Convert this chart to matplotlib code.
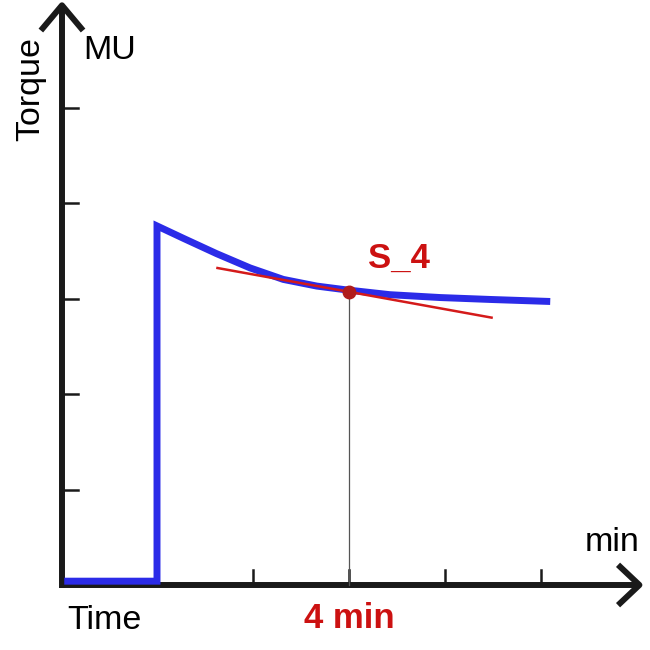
import numpy as np
import matplotlib.pyplot as plt

plt.rcParams['font.family'] = ['Liberation Sans', 'DejaVu Sans']

# torque curve (time in min, torque in tick units)
t_base = [-1.86, 0.0]
y_base = [0.04, 0.04]
t_curve = [0.0, 0.55, 1.24, 1.94, 2.63, 3.33, 3.95, 4.85, 5.9, 6.94, 8.12]
y_curve = [3.76, 3.63, 3.47, 3.32, 3.20, 3.13, 3.09, 3.04, 3.01, 2.99, 2.97]

# tangent at 4 min
t_point = 4.0
y_point = 3.07
t_tan = [1.26, 6.97]
slope = -0.091

x_ticks = [0, 2, 4, 6, 8]
y_ticks = [1, 2, 3, 4, 5]

fig = plt.figure(figsize=(6.5, 6.5), dpi=100)
ax = fig.add_axes([0, 0, 1, 1])
ax.set_xlim(-157 / 48, 493 / 48)
ax.set_ylim(-65 / 95.5, 585 / 95.5)
ax.axis('off')

k = '#1a1a1a'
x0, y0 = -1.98, 0.0
xe, ye = 10.05, 6.07

# axes with open arrow heads
ax.plot([x0, xe], [y0, y0], color=k, lw=4.3, solid_capstyle='butt')
ax.plot([x0, x0], [y0 - 0.03, ye], color=k, lw=4.3, solid_capstyle='butt')
ax.plot([xe - 0.4, xe, xe - 0.4], [y0 + 0.19, y0, y0 - 0.19], color=k, lw=4.3)
ax.plot([x0 - 0.4, x0, x0 + 0.4], [ye - 0.24, ye, ye - 0.24], color=k, lw=4.3)

for t in x_ticks:
    ax.plot([t, t], [y0, y0 + 0.16], color=k, lw=1.8)
for v in y_ticks:
    ax.plot([x0, x0 + 0.33], [v, v], color=k, lw=1.8)

# blue torque curve
ax.plot(t_base + t_curve, y_base + y_curve, color='#2b2be8', lw=5,
        solid_joinstyle='miter')

# gray drop line, tangent and point
ax.plot([t_point, t_point], [y0, y_point], color='#555555', lw=0.9)
t_tan = np.array(t_tan)
ax.plot(t_tan, y_point + slope * (t_tan - t_point), color='#d41a1a', lw=1.8)
ax.plot([t_point], [y_point], 'o', color='#b01c1c', ms=9)

ax.text(5.03, 3.42, 'S_4', color='#cc1111', fontsize=25, fontweight='bold',
        ha='center', va='center')
ax.text(t_point, -0.35, '4 min', color='#cc1111', fontsize=25, fontweight='bold',
        ha='center', va='center')
ax.text(-1.1, -0.37, 'Time', color='black', fontsize=24.5, ha='center', va='center')
ax.text(9.48, 0.44, 'min', color='black', fontsize=24.5, ha='center', va='center')
ax.text(-0.98, 5.6, 'MU', color='black', fontsize=24.5, ha='center', va='center')
ax.text(-2.62, 5.19, 'Torque', color='black', fontsize=24.5, rotation=90,
        ha='center', va='center')

plt.savefig('out.png', dpi=100)
